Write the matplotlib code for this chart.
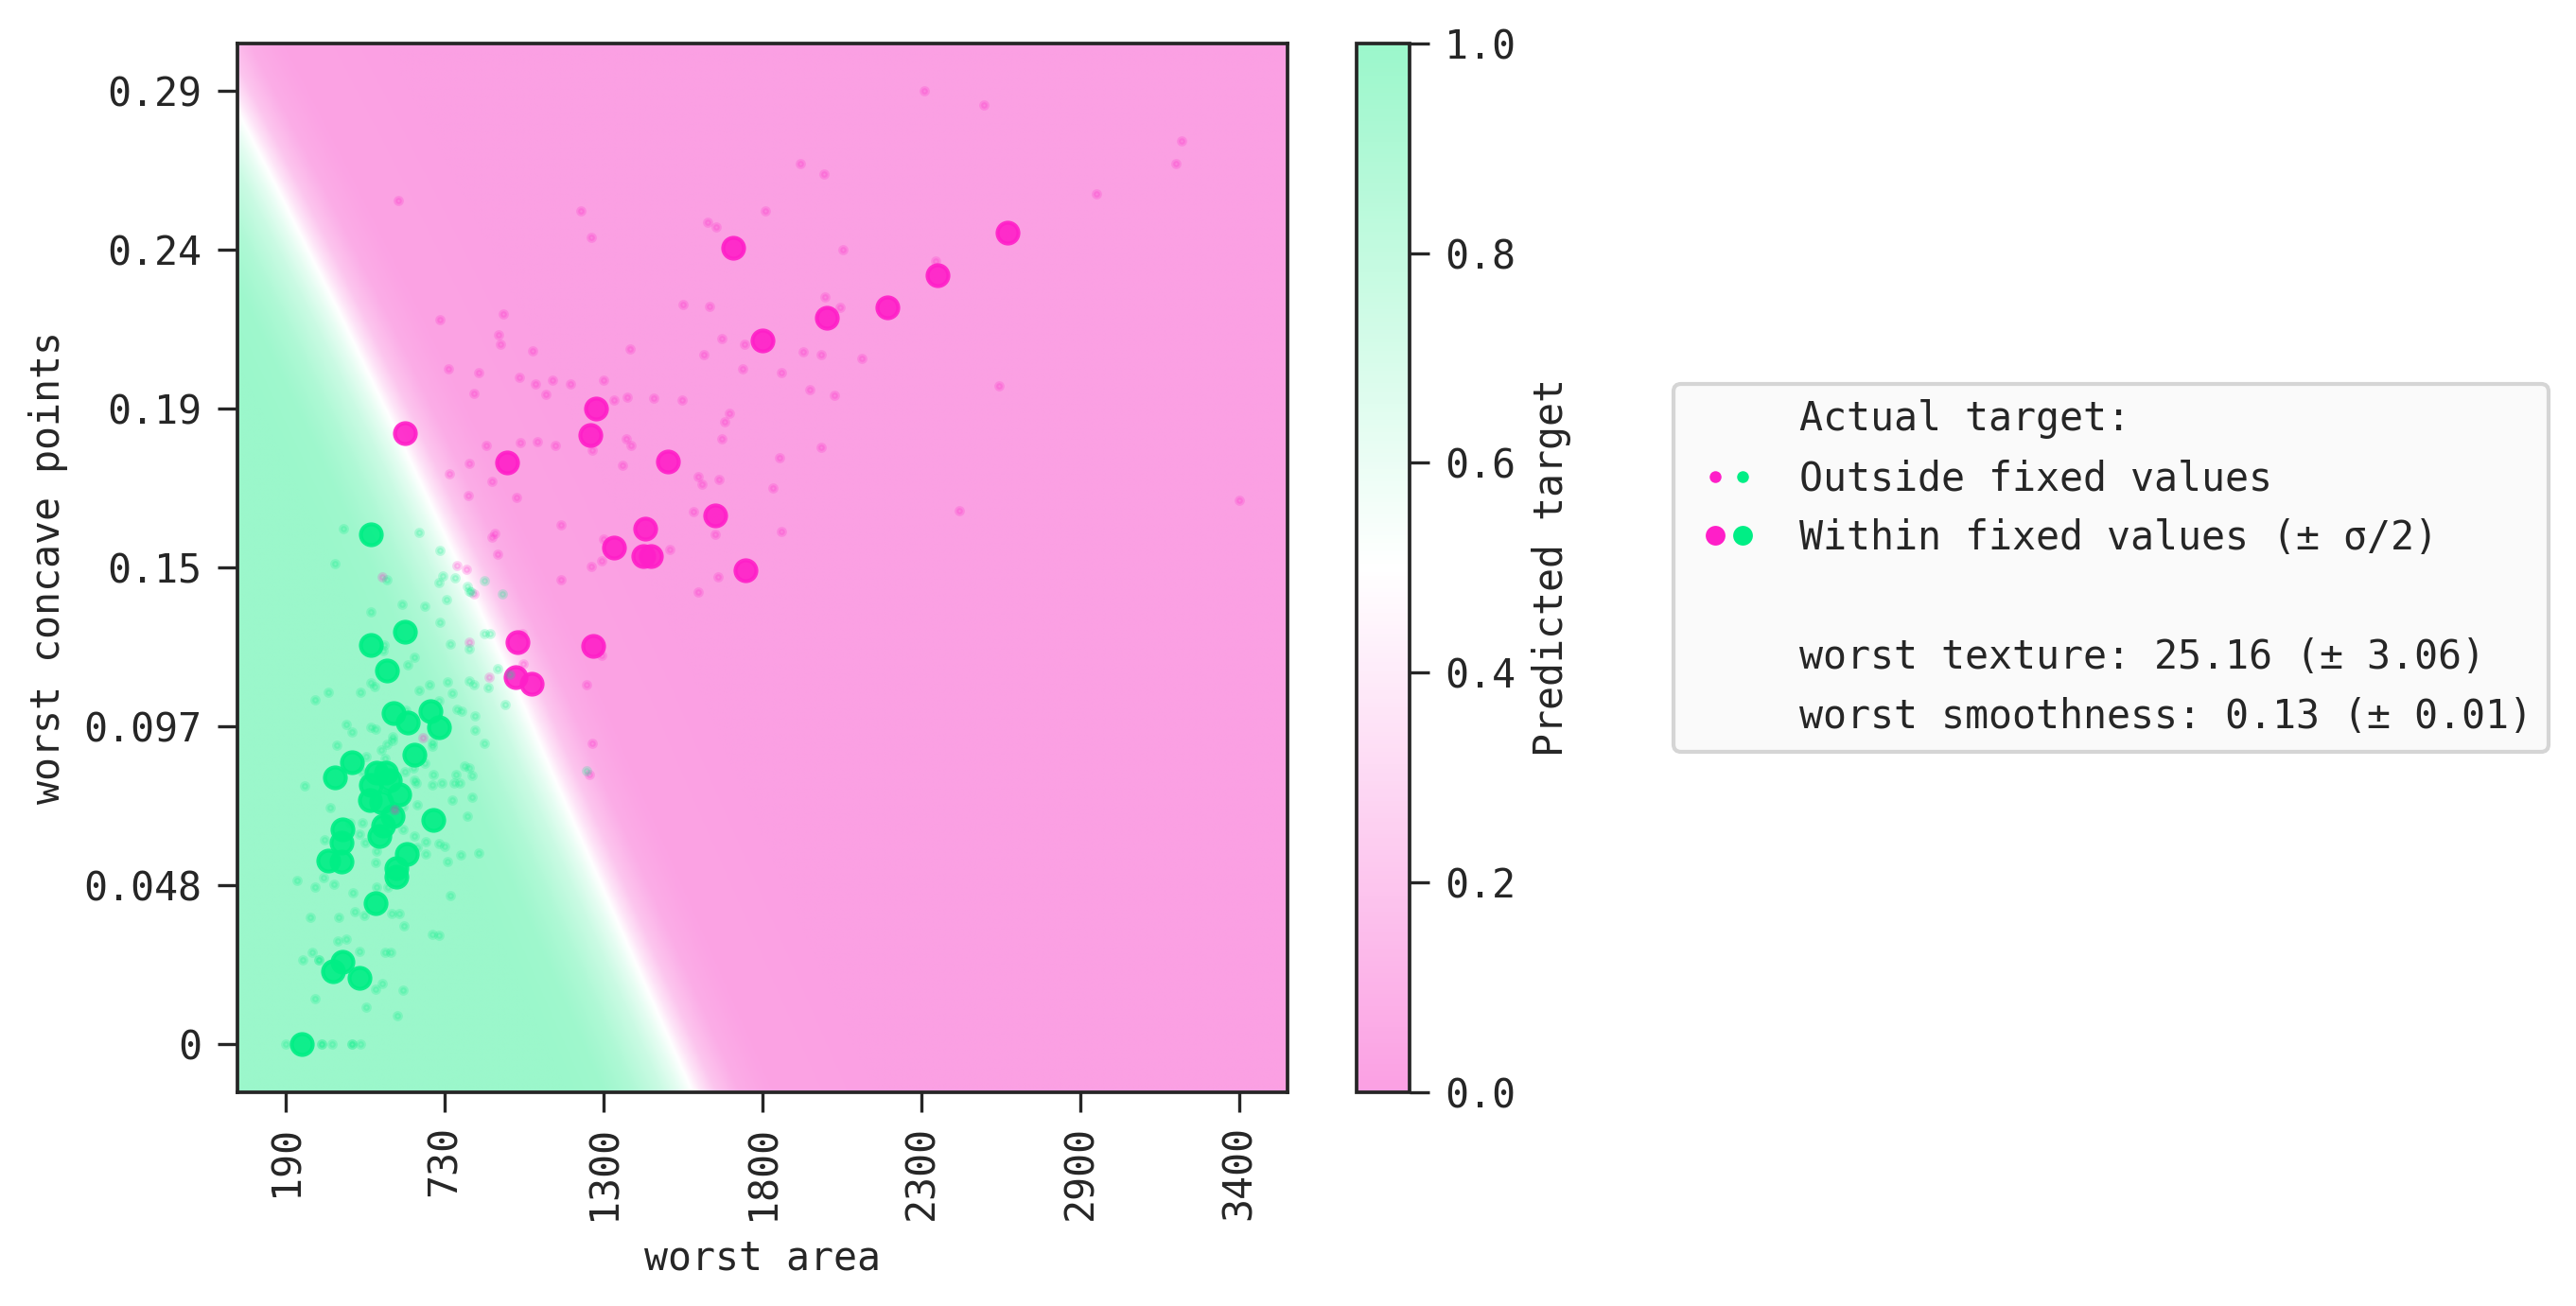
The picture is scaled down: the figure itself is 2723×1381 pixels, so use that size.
import matplotlib
matplotlib.use("Agg")
import matplotlib.pyplot as plt
import numpy as np
from matplotlib.colors import LinearSegmentedColormap
from matplotlib.legend_handler import HandlerTuple
from matplotlib.lines import Line2D

plt.rcParams['font.family'] = ['DejaVu Sans Mono', 'DejaVu Sans']
plt.rcParams['font.size'] = 10
plt.rcParams['text.color'] = '.15'
plt.rcParams['axes.labelcolor'] = '.15'
plt.rcParams['xtick.color'] = '.15'
plt.rcParams['ytick.color'] = '.15'
plt.rcParams['axes.edgecolor'] = '.15'

# Подписи осей
x_ticks = [187, 728, 1269, 1810, 2351, 2892, 3433]
x_tick_labels = ['190', '730', '1300', '1800', '2300', '2900', '3400']
y_ticks = [0, 0.0485, 0.097, 0.1455, 0.194, 0.2425, 0.291]
y_tick_labels = ['0', '0.048', '0.097', '0.15', '0.19', '0.24', '0.29']

# Граница решения и профиль предсказания поперёк неё
boundary_cp = [-0.0147, 0.0361, 0.0857, 0.1071, 0.1833, 0.2223, 0.2595, 0.2832, 0.3055]
boundary_area = [1568, 1319, 1076, 976, 580, 371, 164, 29, -100]
profile_offset = [-450, -300, -200, -100, -40, 0, 30, 80, 160, 260, 700]
profile_pred = [1.0, 0.98, 0.9, 0.76, 0.62, 0.5, 0.37, 0.2, 0.07, 0.02, 0.0]

# Точки внутри фиксированных значений
big_pink_area = [593, 941, 1242, 1224, 1487, 1710, 1811, 1648, 1411, 1304, 1404, 1429, 1751,
                 2645, 2405, 2234, 2028, 975, 1234, 969, 1023]
big_pink_cp = [.1866, .1776, .1940, .1858, .1777, .2431, .2149, .1614, .1572, .1516, .1491, .1489, .1446,
               .2476, .2347, .2248, .2217, .1226, .1216, .1121, .1099]
big_green_area = [478, 593, 476, 533, 554, 602, 680, 710, 626, 412, 355, 497, 529, 476, 540, 572, 474,
                  513, 551, 519, 506, 690, 381, 376, 333, 377, 599, 564, 564, 492, 379, 347, 438, 242]
big_green_cp = [.1556, .1259, .1219, .1139, .1011, .0981, .1017, .0968, .0884, .0861, .0813, .0829, .0829,
                .0791, .0805, .0762, .0745, .0738, .0695, .0666, .0635, .0685, .0654, .0616, .0560, .0558,
                .0579, .0536, .0510, .0431, .0250, .0223, .0203, 0]

# Точки вне фиксированных значений
small_pink_area = [569, 1190, 1227, 1624, 1653, 1819, 1939, 713, 929, 910, 917, 1026, 1540, 1628, 1360, 1672,
                   1748, 1611, 1947, 1742, 1874, 1972, 740, 845, 983, 1036, 1096, 1155, 1269, 828, 1071, 1305,
                   1350, 1439, 1535, 1698, 1680, 1672, 1346, 1362, 871, 987, 1045, 1104, 1231, 1333, 1868, 812,
                   744, 890, 1590, 1604, 1661, 1845, 808, 973, 1576, 1123, 898, 890, 1649, 1874, 909, 1269, 1495,
                   2361, 2563, 3235, 3218, 2020, 2946, 2082, 2398, 2022, 2074, 2011, 2147, 2053, 2616, 2010, 3434,
                   2478, 1659, 1591, 1262, 1228, 1125, 1263, 1211, 1229, 1220, 771, 801, 827, 515, 811, 991, 994,
                   654, 878, 556]
small_pink_cp = [.2576, .2544, .2463, .2509, .2494, .2543, .2687, .2211, .2230, .2165, .2136, .2116, .2257, .2253,
                 .2123, .2153, .2136, .2104, .2113, .2062, .2049, .1999, .2062, .2051, .2036, .2015, .2028, .2014,
                 .2026, .1987, .1982, .1966, .1976, .1971, .1967, .1925, .1900, .1849, .1848, .1828, .1828, .1835,
                 .1839, .1828, .1813, .1768, .1791, .1773, .1742, .1717, .1733, .1709, .1723, .1698, .1674, .1668,
                 .1626, .1584, .1558, .1548, .1557, .1564, .1496, .1542, .1511, .2911, .2868, .2758, .2689, .2656,
                 .2595, .2424, .2390, .2281, .2249, .2106, .2093, .1981, .2010, .1821, .1661, .1627, .1426, .1380,
                 .1475, .1457, .1418, .1186, .1097, .0919, .0824, .1460, .1448, .1375, .1425, .1226, .1253, .1161,
                 .0934, .1121, .0717]
small_green_area = [382, 640, 711, 353, 720, 763, 710, 531, 805, 863, 811, 819, 924, 734, 582, 661, 478, 713, 862,
                    881, 747, 811, 523, 517, 626, 601, 907, 331, 441, 478, 490, 640, 676, 736, 811, 829, 752, 875,
                    934, 709, 769, 785, 832, 597, 393, 413, 476, 493, 832, 551, 551, 532, 512, 360, 687, 687, 863,
                    460, 524, 661, 621, 593, 449, 690, 797, 810, 821, 766, 626, 631, 685, 717, 760, 778, 752, 821,
                    338, 634, 586, 805, 449, 406, 586, 438, 457, 624, 664, 709, 728, 635, 497, 664, 784, 843, 494,
                    736, 315, 351, 497, 318, 226, 286, 417, 535, 747, 422, 272, 366, 454, 546, 572, 588, 687, 708,
                    364, 394, 276, 301, 301, 245, 438, 524, 545, 515, 494, 587, 287, 460, 566, 188, 309, 309, 344,
                    411, 411, 441, 251, 286, 950, 1211]
small_green_cp = [.1572, .1563, .1506, .1467, .1428, .1424, .1408, .1417, .1398, .1414, .1383, .1380, .1375, .1358,
                  .1343, .1336, .1319, .1289, .1252, .1252, .1222, .1207, .1217, .1202, .1181, .1157, .1147, .1075,
                  .1075, .1104, .1092, .1081, .1097, .1106, .1109, .1096, .1070, .1087, .1036, .1049, .1022, .1017,
                  .1003, .1020, .0976, .0952, .0966, .0962, .0959, .0938, .0928, .0916, .0897, .0913, .0921, .0909,
                  .0919, .0877, .0871, .0858, .0842, .0831, .0831, .0822, .0849, .0842, .0819, .0823, .0805, .0796,
                  .0792, .0797, .0796, .0797, .0746, .0754, .0723, .0729, .0724, .0696, .0676, .0676, .0656, .0642,
                  .0616, .0634, .0619, .0612, .0603, .0600, .0589, .0581, .0576, .0582, .0553, .0558, .0509, .0487,
                  .0479, .0625, .0500, .0479, .0461, .0478, .0454, .0404, .0386, .0386, .0393, .0399, .0399, .0362,
                  .0335, .0332, .0314, .0320, .0279, .0257, .0257, .0257, .0284, .0280, .0279, .0186, .0167, .0164,
                  .0140, .0112, .0088, 0, 0, 0, 0, 0, 0, 0, .0789, .1050, .1130, .0835]

pink = '#FF1FC8'
green = '#00EE85'
cmap = LinearSegmentedColormap.from_list('pred', ['#FBA0E3', '#FFFFFF', '#9BF7CB'])

W, H = 2723, 1381
fig = plt.figure(figsize=(W / 300, H / 300), dpi=300)
ax = fig.add_axes([250.5 / W, 1 - 1155 / H, 1110.2 / W, 1109.2 / H])
cax = fig.add_axes([1433.7 / W, 1 - 1155 / H, 56.3 / W, 1109.2 / H])

xlim = (21, 3596)
ylim = (-0.01472, 0.3055)

# Фон: предсказание модели
grid_x, grid_y = np.meshgrid(np.linspace(*xlim, 900), np.linspace(*ylim, 900))
offset = grid_x - np.interp(grid_y, boundary_cp, boundary_area)
pred = np.interp(offset, profile_offset, profile_pred)
im = ax.imshow(pred, origin='lower', extent=(*xlim, *ylim), aspect='auto', cmap=cmap, vmin=0, vmax=1,
               interpolation='bilinear')

ax.scatter(big_pink_area, big_pink_cp, s=28, color=pink, linewidths=1, alpha=0.9)
ax.scatter(big_green_area, big_green_cp, s=28, color=green, linewidths=1, alpha=0.9)
ax.scatter(small_pink_area, small_pink_cp, s=2.5, color=pink, linewidths=1, alpha=0.2)
ax.scatter(small_green_area, small_green_cp, s=2.5, color=green, linewidths=1, alpha=0.2)

ax.set_xlim(xlim)
ax.set_ylim(ylim)
ax.set_xticks(x_ticks)
ax.set_xticklabels(x_tick_labels, rotation=90)
ax.set_yticks(y_ticks)
ax.set_yticklabels(y_tick_labels)
ax.tick_params(length=5, width=0.8)
ax.tick_params(axis='y', pad=3.9)
ax.set_xlabel('worst area', labelpad=4.6)
ax.set_ylabel('worst concave points')
for spine in ax.spines.values():
    spine.set_linewidth(0.9)

cb = fig.colorbar(im, cax=cax)
cb.set_ticks([0, 0.2, 0.4, 0.6, 0.8, 1.0])
cb.ax.tick_params(length=5, width=0.8, pad=3.9)
cb.set_label('Predicted target', labelpad=4.0)
cb.outline.set_linewidth(0.9)

# Легенда
blank = Line2D([], [], linestyle='none')
handles = [
    blank,
    (Line2D([], [], linestyle='none', marker='o', ms=3, mew=0, color=pink),
     Line2D([], [], linestyle='none', marker='o', ms=3, mew=0, color=green)),
    (Line2D([], [], linestyle='none', marker='o', ms=5, mew=0, color=pink),
     Line2D([], [], linestyle='none', marker='o', ms=5, mew=0, color=green)),
    blank, blank, blank,
]
labels = ['Actual target:', 'Outside fixed values', 'Within fixed values (± σ/2)', ' ',
          'worst texture: 25.16 (± 3.06)', 'worst smoothness: 0.13 (± 0.01)']
fig.legend(handles, labels, loc='center left', bbox_to_anchor=(1769 / W, 1 - 600.5 / H), borderaxespad=0,
           handler_map={tuple: HandlerTuple(ndivide=None, pad=-0.62)}, facecolor='#FAFAFA', edgecolor='#D5D5D5',
           framealpha=1, fontsize=10)

fig.savefig('out.png', dpi=300)
